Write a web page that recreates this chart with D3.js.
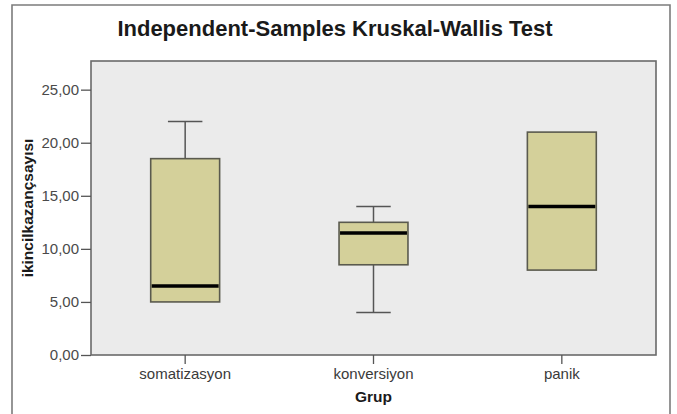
<!DOCTYPE html>
<html>
<head>
<meta charset="utf-8">
<script src="https://cdn.jsdelivr.net/npm/d3@7"></script>
<style>
  html, body { margin: 0; padding: 0; background: #fff; }
  svg { display: block; font-family: "Liberation Sans", Arial, sans-serif; }
</style>
</head>
<body>
<div id="chart"></div>
<script>
// box plot values
const groups = ['somatizasyon', 'konversiyon', 'panik'];
const whiskerLow = [5, 4, 8];
const q1 = [5, 8.5, 8];
const medians = [6.5, 11.5, 14];
const q3 = [18.5, 12.5, 21];
const whiskerHigh = [22, 14, 21];
const yTicks = [0, 5, 10, 15, 20, 25];

const width = 677;
const height = 414;
const plot = { left: 91, right: 656, top: 61, bottom: 355 };

const svg = d3.select('#chart')
    .append('svg')
    .attr('width', width)
    .attr('height', height);

// outer frame (no bottom edge visible)
svg.append('path')
    .attr('d', `M12,${height + 2}V5H670V${height + 2}`)
    .attr('fill', 'none')
    .attr('stroke', '#7c7c7c')
    .attr('stroke-width', 1.6);

svg.append('text')
    .attr('x', 335)
    .attr('y', 36)
    .attr('text-anchor', 'middle')
    .attr('font-size', 22)
    .attr('font-weight', 'bold')
    .attr('fill', '#1a1a1a')
    .text('Independent-Samples Kruskal-Wallis Test');

const x = d3.scaleBand()
    .domain(groups)
    .range([plot.left, plot.right]);

const y = d3.scaleLinear()
    .domain([0, 27.7])
    .range([plot.bottom, plot.top]);

// plot background
svg.append('rect')
    .attr('x', plot.left)
    .attr('y', plot.top)
    .attr('width', plot.right - plot.left)
    .attr('height', plot.bottom - plot.top)
    .attr('fill', '#ebebeb')
    .attr('stroke', '#6a6a6a')
    .attr('stroke-width', 1.6);

const locale = d3.formatLocale({ decimal: ',', thousands: '.', grouping: [3], currency: ['', ''] });

const yAxis = svg.append('g')
    .attr('transform', `translate(${plot.left},0)`)
    .call(d3.axisLeft(y).tickValues(yTicks).tickFormat(locale.format('.2f')).tickSize(10).tickPadding(2));
yAxis.select('.domain').remove();
yAxis.selectAll('line').attr('stroke', '#555').attr('stroke-width', 1.3);
yAxis.selectAll('text')
    .attr('font-size', 15)
    .attr('fill', '#4a4a4a')
    .attr('font-family', '"Liberation Sans", Arial, sans-serif');

const xAxis = svg.append('g')
    .attr('transform', `translate(0,${plot.bottom})`)
    .call(d3.axisBottom(x).tickSize(9).tickPadding(4));
xAxis.select('.domain').remove();
xAxis.selectAll('line').attr('stroke', '#555').attr('stroke-width', 1.3);
xAxis.selectAll('text')
    .attr('font-size', 15)
    .attr('fill', '#3a3a3a')
    .attr('font-family', '"Liberation Sans", Arial, sans-serif');

// axis titles
svg.append('text')
    .attr('x', plot.left + (plot.right - plot.left) / 2)
    .attr('y', 402)
    .attr('text-anchor', 'middle')
    .attr('font-size', 15.5)
    .attr('font-weight', 'bold')
    .attr('fill', '#1a1a1a')
    .text('Grup');

svg.append('text')
    .attr('transform', 'translate(33,208) rotate(-90)')
    .attr('text-anchor', 'middle')
    .attr('font-size', 15.5)
    .attr('font-weight', 'bold')
    .attr('fill', '#1a1a1a')
    .text('ikincilkazançsayısı');

// boxes
const boxW = x.bandwidth() * 0.366;
const capW = boxW / 2;

const boxes = svg.append('g')
    .selectAll('g')
    .data(groups.map((g, i) => ({
        g, lo: whiskerLow[i], q1: q1[i], med: medians[i], q3: q3[i], hi: whiskerHigh[i]
    })))
    .enter()
    .append('g')
    .attr('transform', d => `translate(${x(d.g) + x.bandwidth() / 2},0)`);

// whiskers
boxes.filter(d => d.hi > d.q3).append('line')
    .attr('y1', d => y(d.q3)).attr('y2', d => y(d.hi))
    .attr('stroke', '#555').attr('stroke-width', 1.5);
boxes.filter(d => d.hi > d.q3).append('line')
    .attr('x1', -capW / 2).attr('x2', capW / 2)
    .attr('y1', d => y(d.hi)).attr('y2', d => y(d.hi))
    .attr('stroke', '#555').attr('stroke-width', 1.5);
boxes.filter(d => d.lo < d.q1).append('line')
    .attr('y1', d => y(d.q1)).attr('y2', d => y(d.lo))
    .attr('stroke', '#555').attr('stroke-width', 1.5);
boxes.filter(d => d.lo < d.q1).append('line')
    .attr('x1', -capW / 2).attr('x2', capW / 2)
    .attr('y1', d => y(d.lo)).attr('y2', d => y(d.lo))
    .attr('stroke', '#555').attr('stroke-width', 1.5);

boxes.append('rect')
    .attr('x', -boxW / 2)
    .attr('width', boxW)
    .attr('y', d => y(d.q3))
    .attr('height', d => y(d.q1) - y(d.q3))
    .attr('fill', '#d4d09a')
    .attr('stroke', '#5a5a4e')
    .attr('stroke-width', 1.6);

boxes.append('line')
    .attr('x1', -boxW / 2 + 1).attr('x2', boxW / 2 - 1)
    .attr('y1', d => y(d.med)).attr('y2', d => y(d.med))
    .attr('stroke', '#000')
    .attr('stroke-width', 3.5);
</script>
</body>
</html>
